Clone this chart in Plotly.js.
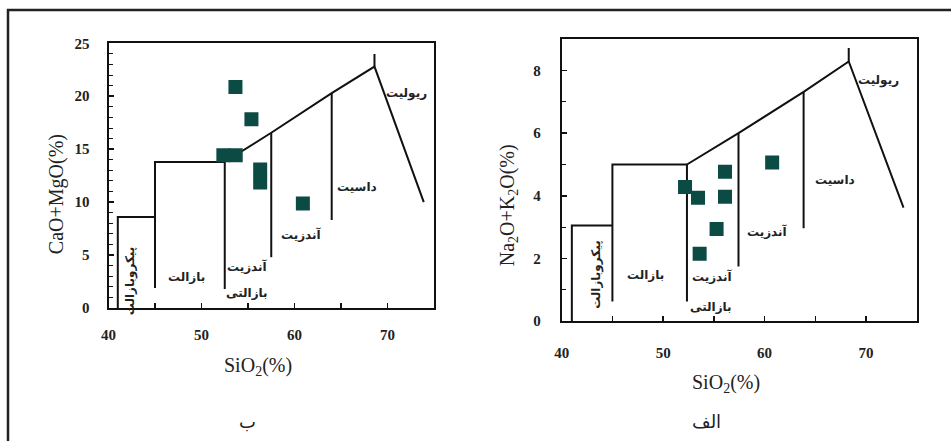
<!DOCTYPE html>
<html>
<head>
<meta charset="utf-8">
<script src="https://cdn.plot.ly/plotly-3.0.1.min.js"></script>
<style>html,body{margin:0;padding:0;background:#fff;}#chart{width:951px;height:441px;}</style>
</head>
<body>
<div id="chart"></div>
<script>
// ---- Data: panel ب (CaO+MgO vs SiO2) ----
const sioB = [53.65, 55.37, 52.35, 53.68, 56.31, 56.31, 60.9];
const camgB = [20.88, 17.83, 14.43, 14.43, 13.08, 11.86, 9.88];
// ---- Data: panel الف (Na2O+K2O vs SiO2) ----
const sioA = [52.16, 53.44, 56.1, 56.1, 55.27, 53.6, 60.75];
const alkA = [4.28, 3.94, 4.77, 3.97, 2.94, 2.15, 5.06];

// Field boundaries (panel ب)
const bPicroX = [41, 41, 45];        const bPicroY = [0, 8.6, 8.6];
const bBasaltX = [45, 45, 52.5];     const bBasaltY = [1.9, 13.8, 13.8];
const bBA_X = [52.5, 52.5];          const bBA_Y = [1.8, 13.8];
const bTopX = [52.5, 57.5, 64.0, 68.6, 73.9];
const bTopY = [13.8, 16.55, 20.3, 22.8, 10.0];
const bAndX = [57.5, 57.5];          const bAndY = [4.8, 16.55];
const bDacX = [64.0, 64.0];          const bDacY = [8.3, 20.3];
const bTickX = [68.6, 68.6];         const bTickY = [22.8, 24.0];

// Field boundaries (panel الف)
const aPicroX = [41, 41, 45];        const aPicroY = [0, 3.05, 3.05];
const aBasaltX = [45, 45, 52.35];    const aBasaltY = [0.62, 5, 5];
const aBA_X = [52.35, 52.35];        const aBA_Y = [0.62, 5];
const aTopX = [52.35, 57.43, 63.85, 68.3, 73.7];
const aTopY = [5, 6, 7.32, 8.29, 3.62];
const aAndX = [57.43, 57.43];        const aAndY = [1.74, 6];
const aDacX = [63.85, 63.85];        const aDacY = [2.96, 7.32];
const aTickX = [68.3, 68.3];         const aTickY = [8.29, 8.72];

// Field labels
const rockNames = ['پیکروبازالت', 'بازالت', 'آندزیت', 'بازالتی', 'آندزیت', 'داسیت', 'ریولیت'];
const bLabelX = [42.4, 48.4, 54.9, 54.9, 60.7, 66.7, 72.0];
const bLabelY = [2.6, 2.9, 3.9, 1.45, 6.9, 11.4, 20.3];
const aLabelX = [43.4, 48.3, 54.85, 54.7, 60.3, 66.9, 71.2];
const aLabelY = [1.48, 1.48, 1.42, 0.46, 2.87, 4.52, 7.68];
const labelAngle = [-90, 0, 0, 0, 0, 0, 0];

const lineStyle = {color: '#111', width: 2};
const markerStyle = {symbol: 'square', size: 14, color: '#0c4a44'};

function seg(x, y, xa, ya) {
  return {x: x, y: y, xaxis: xa, yaxis: ya, mode: 'lines', line: lineStyle,
          hoverinfo: 'skip', showlegend: false, type: 'scatter'};
}

const traces = [
  seg(bPicroX, bPicroY, 'x', 'y'), seg(bBasaltX, bBasaltY, 'x', 'y'),
  seg(bBA_X, bBA_Y, 'x', 'y'), seg(bTopX, bTopY, 'x', 'y'),
  seg(bAndX, bAndY, 'x', 'y'), seg(bDacX, bDacY, 'x', 'y'), seg(bTickX, bTickY, 'x', 'y'),
  seg(aPicroX, aPicroY, 'x2', 'y2'), seg(aBasaltX, aBasaltY, 'x2', 'y2'),
  seg(aBA_X, aBA_Y, 'x2', 'y2'), seg(aTopX, aTopY, 'x2', 'y2'),
  seg(aAndX, aAndY, 'x2', 'y2'), seg(aDacX, aDacY, 'x2', 'y2'), seg(aTickX, aTickY, 'x2', 'y2'),
  {x: sioB, y: camgB, xaxis: 'x', yaxis: 'y', mode: 'markers', marker: markerStyle,
   showlegend: false, type: 'scatter'},
  {x: sioA, y: alkA, xaxis: 'x2', yaxis: 'y2', mode: 'markers', marker: markerStyle,
   showlegend: false, type: 'scatter'}
];

const W = 951, H = 441;
const px = v => v / W;
const py = v => 1 - v / H;

const tickFont = {family: 'Liberation Serif', size: 15, color: '#222', weight: 700};
function xAx(domain, standoff, anchor) {
  return {domain: domain, range: [40, 75], anchor: anchor, showgrid: false, zeroline: false,
    showline: true, mirror: true, linecolor: '#111', linewidth: 2,
    ticks: 'inside', ticklen: 5, tickwidth: 1.5, tickcolor: '#111', dtick: 10, tick0: 40,
    minor: {dtick: 5, ticks: 'inside', ticklen: 5, tickwidth: 1.5, tickcolor: '#111'},
    tickfont: tickFont, ticklabelstandoff: standoff};
}
function yAx(domain, max, dtick, standoff, anchor) {
  return {domain: domain, range: [0, max], anchor: anchor, showgrid: false, zeroline: false,
    showline: true, mirror: true, linecolor: '#111', linewidth: 2,
    ticks: 'inside', ticklen: 5, tickwidth: 1.5, tickcolor: '#111', dtick: dtick, tick0: 0,
    minor: {dtick: 1, ticks: 'inside', ticklen: 4, tickwidth: 1, tickcolor: '#111'},
    tickfont: tickFont, ticklabelstandoff: standoff};
}

const labelFont = {family: 'DejaVu Sans', size: 12, color: '#222', weight: 700};
const annotations = [];
for (let i = 0; i < rockNames.length; i++) {
  annotations.push({x: bLabelX[i], y: bLabelY[i], xref: 'x', yref: 'y', text: rockNames[i],
    showarrow: false, textangle: labelAngle[i], xanchor: 'center', yanchor: 'middle',
    font: labelFont});
  annotations.push({x: aLabelX[i], y: aLabelY[i], xref: 'x2', yref: 'y2', text: rockNames[i],
    showarrow: false, textangle: labelAngle[i], xanchor: 'center', yanchor: 'middle',
    font: labelFont});
}
const titleFont = {family: 'Liberation Serif', size: 20, color: '#222'};
function paperText(xp, yp, text, angle, font) {
  return {x: px(xp), y: py(yp), xref: 'paper', yref: 'paper', text: text, textangle: angle,
    showarrow: false, xanchor: 'center', yanchor: 'middle', font: font};
}
annotations.push(
  paperText(56.7, 194.5, 'CaO+MgO(%)', -90, titleFont),
  paperText(257.5, 366.7, 'SiO<sub>2</sub>(%)', 0, titleFont),
  paperText(508.3, 205, 'Na<sub>2</sub>O+K<sub>2</sub>O(%)', -90, titleFont),
  paperText(725.5, 383.3, 'SiO<sub>2</sub>(%)', 0, titleFont),
  paperText(247, 421, 'ب', 0, {family: 'DejaVu Sans', size: 18, color: '#222'}),
  paperText(706.7, 421, 'الف', 0, {family: 'DejaVu Sans', size: 18, color: '#222'})
);

const layout = {
  width: W, height: H,
  margin: {l: 0, r: 0, t: 0, b: 0},
  paper_bgcolor: '#fff', plot_bgcolor: '#fff',
  showlegend: false,
  xaxis: xAx([px(108.5), px(434)], 12, 'y'),
  yaxis: yAx([py(308), py(43.3)], 25, 5, 14, 'x'),
  xaxis2: xAx([px(561.7), px(916.7)], 17, 'y2'),
  yaxis2: yAx([py(321), py(39.3)], 9, 2, 16, 'x2'),
  annotations: annotations,
  shapes: [
    {type: 'path', xref: 'paper', yref: 'paper',
     path: `M ${px(8)} ${py(H + 5)} L ${px(8)} ${py(10)} L ${px(W + 5)} ${py(10)}`,
     line: {color: '#222', width: 2.5}}
  ]
};

Plotly.newPlot('chart', traces, layout, {staticPlot: true, displayModeBar: false});
</script>
</body>
</html>
